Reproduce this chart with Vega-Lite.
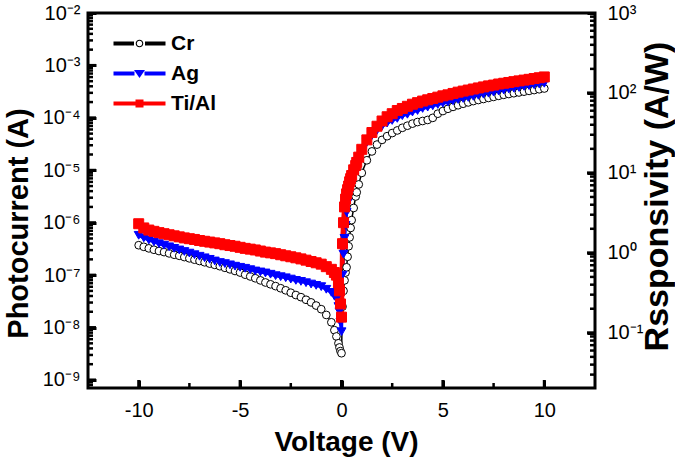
{
  "$schema": "https://vega.github.io/schema/vega-lite/v6.json",
  "width": 507,
  "height": 375,
  "autosize": "none",
  "padding": {"left": 88, "top": 13, "right": 80, "bottom": 69},
  "background": "white",
  "datasets": {
    "iv": [
      {"V": -10, "Cr": 3.72e-7, "Ag": 5.75e-7, "Ti/Al": 9.55e-7},
      {"V": -9.75, "Cr": 3.47e-7, "Ag": 5.13e-7, "Ti/Al": 7.94e-7},
      {"V": -9.5, "Cr": 3.24e-7, "Ag": 4.68e-7, "Ti/Al": 7.24e-7},
      {"V": -9.25, "Cr": 3.05e-7, "Ag": 4.32e-7, "Ti/Al": 6.84e-7},
      {"V": -9, "Cr": 2.88e-7, "Ag": 3.98e-7, "Ti/Al": 6.46e-7},
      {"V": -8.75, "Cr": 2.75e-7, "Ag": 3.72e-7, "Ti/Al": 6.17e-7},
      {"V": -8.5, "Cr": 2.60e-7, "Ag": 3.47e-7, "Ti/Al": 5.89e-7},
      {"V": -8.25, "Cr": 2.45e-7, "Ag": 3.24e-7, "Ti/Al": 5.62e-7},
      {"V": -8, "Cr": 2.34e-7, "Ag": 3.02e-7, "Ti/Al": 5.37e-7},
      {"V": -7.75, "Cr": 2.21e-7, "Ag": 2.82e-7, "Ti/Al": 5.13e-7},
      {"V": -7.5, "Cr": 2.09e-7, "Ag": 2.63e-7, "Ti/Al": 4.95e-7},
      {"V": -7.25, "Cr": 1.97e-7, "Ag": 2.45e-7, "Ti/Al": 4.79e-7},
      {"V": -7, "Cr": 1.86e-7, "Ag": 2.29e-7, "Ti/Al": 4.57e-7},
      {"V": -6.75, "Cr": 1.76e-7, "Ag": 2.14e-7, "Ti/Al": 4.42e-7},
      {"V": -6.5, "Cr": 1.66e-7, "Ag": 2.00e-7, "Ti/Al": 4.27e-7},
      {"V": -6.25, "Cr": 1.57e-7, "Ag": 1.86e-7, "Ti/Al": 4.12e-7},
      {"V": -6, "Cr": 1.48e-7, "Ag": 1.74e-7, "Ti/Al": 3.98e-7},
      {"V": -5.75, "Cr": 1.38e-7, "Ag": 1.66e-7, "Ti/Al": 3.80e-7},
      {"V": -5.5, "Cr": 1.29e-7, "Ag": 1.57e-7, "Ti/Al": 3.67e-7},
      {"V": -5.25, "Cr": 1.20e-7, "Ag": 1.48e-7, "Ti/Al": 3.55e-7},
      {"V": -5, "Cr": 1.12e-7, "Ag": 1.41e-7, "Ti/Al": 3.39e-7},
      {"V": -4.75, "Cr": 1.02e-7, "Ag": 1.35e-7, "Ti/Al": 3.24e-7},
      {"V": -4.5, "Cr": 9.44e-8, "Ag": 1.27e-7, "Ti/Al": 3.13e-7},
      {"V": -4.25, "Cr": 8.71e-8, "Ag": 1.20e-7, "Ti/Al": 3.02e-7},
      {"V": -4, "Cr": 7.94e-8, "Ag": 1.15e-7, "Ti/Al": 2.88e-7},
      {"V": -3.75, "Cr": 7.24e-8, "Ag": 1.10e-7, "Ti/Al": 2.75e-7},
      {"V": -3.5, "Cr": 6.68e-8, "Ag": 1.04e-7, "Ti/Al": 2.66e-7},
      {"V": -3.25, "Cr": 6.17e-8, "Ag": 9.77e-8, "Ti/Al": 2.57e-7},
      {"V": -3, "Cr": 5.62e-8, "Ag": 9.33e-8, "Ti/Al": 2.45e-7},
      {"V": -2.75, "Cr": 5.13e-8, "Ag": 8.91e-8, "Ti/Al": 2.34e-7},
      {"V": -2.5, "Cr": 4.62e-8, "Ag": 8.41e-8, "Ti/Al": 2.24e-7},
      {"V": -2.25, "Cr": 4.17e-8, "Ag": 7.94e-8, "Ti/Al": 2.14e-7},
      {"V": -2, "Cr": 3.80e-8, "Ag": 7.59e-8, "Ti/Al": 2.04e-7},
      {"V": -1.75, "Cr": 3.39e-8, "Ag": 7.16e-8, "Ti/Al": 1.93e-7},
      {"V": -1.5, "Cr": 3.02e-8, "Ag": 6.76e-8, "Ti/Al": 1.82e-7},
      {"V": -1.25, "Cr": 2.63e-8, "Ag": 6.38e-8, "Ti/Al": 1.72e-7},
      {"V": -1, "Cr": 2.24e-8, "Ag": 6.03e-8, "Ti/Al": 1.62e-7},
      {"V": -0.75, "Cr": 1.74e-8, "Ag": 5.37e-8, "Ti/Al": 1.45e-7},
      {"V": -0.5, "Cr": 1.26e-8, "Ag": 4.68e-8, "Ti/Al": 1.29e-7},
      {"V": -0.35, "Cr": 8.91e-9, "Ag": 3.98e-8, "Ti/Al": 1.12e-7},
      {"V": -0.25, "Cr": 6.76e-9, "Ag": 3.55e-8, "Ti/Al": 1.00e-7},
      {"V": -0.15, "Cr": 5.01e-9, "Ag": 2.51e-8, "Ti/Al": 7.08e-8},
      {"V": -0.1, "Cr": 4.17e-9, "Ag": 2.00e-8, "Ti/Al": 5.01e-8},
      {"V": -0.05, "Cr": 3.55e-9, "Ag": 1.26e-8, "Ti/Al": 2.82e-8},
      {"V": 0, "Cr": 3.24e-9, "Ag": 8.32e-9, "Ti/Al": 1.58e-8},
      {"V": 0.05, "Cr": 2.51e-8, "Ag": 1.00e-7, "Ti/Al": 3.98e-7},
      {"V": 0.1, "Cr": 5.01e-8, "Ag": 2.51e-7, "Ti/Al": 1.00e-6},
      {"V": 0.15, "Cr": 7.94e-8, "Ag": 5.01e-7, "Ti/Al": 2.00e-6},
      {"V": 0.2, "Cr": 1.12e-7, "Ag": 8.91e-7, "Ti/Al": 2.82e-6},
      {"V": 0.25, "Cr": 1.41e-7, "Ag": 1.58e-6, "Ti/Al": 3.55e-6},
      {"V": 0.3, "Cr": 2.24e-7, "Ag": 2.40e-6, "Ti/Al": 4.27e-6},
      {"V": 0.35, "Cr": 3.55e-7, "Ag": 3.39e-6, "Ti/Al": 5.01e-6},
      {"V": 0.4, "Cr": 5.25e-7, "Ag": 4.47e-6, "Ti/Al": 6.03e-6},
      {"V": 0.45, "Cr": 7.94e-7, "Ag": 5.62e-6, "Ti/Al": 6.92e-6},
      {"V": 0.5, "Cr": 1.12e-6, "Ag": 7.08e-6, "Ti/Al": 7.94e-6},
      {"V": 0.6, "Cr": 1.91e-6, "Ag": 9.55e-6, "Ti/Al": 1.02e-5},
      {"V": 0.7, "Cr": 3.16e-6, "Ag": 1.29e-5, "Ti/Al": 1.23e-5},
      {"V": 0.75, "Cr": 3.80e-6, "Ag": 1.48e-5, "Ti/Al": 1.41e-5},
      {"V": 0.85, "Cr": 5.37e-6, "Ag": 1.78e-5, "Ti/Al": 1.78e-5},
      {"V": 1, "Cr": 8.91e-6, "Ag": 2.34e-5, "Ti/Al": 2.51e-5},
      {"V": 1.25, "Cr": 1.55e-5, "Ag": 3.39e-5, "Ti/Al": 3.80e-5},
      {"V": 1.5, "Cr": 2.29e-5, "Ag": 4.57e-5, "Ti/Al": 5.25e-5},
      {"V": 1.75, "Cr": 3.09e-5, "Ag": 5.75e-5, "Ti/Al": 6.92e-5},
      {"V": 2, "Cr": 3.80e-5, "Ag": 6.92e-5, "Ti/Al": 8.71e-5},
      {"V": 2.25, "Cr": 4.47e-5, "Ag": 7.94e-5, "Ti/Al": 1.05e-4},
      {"V": 2.5, "Cr": 5.13e-5, "Ag": 8.91e-5, "Ti/Al": 1.20e-4},
      {"V": 2.75, "Cr": 5.75e-5, "Ag": 9.77e-5, "Ti/Al": 1.38e-4},
      {"V": 3, "Cr": 6.46e-5, "Ag": 1.10e-4, "Ti/Al": 1.51e-4},
      {"V": 3.25, "Cr": 7.08e-5, "Ag": 1.17e-4, "Ti/Al": 1.66e-4},
      {"V": 3.5, "Cr": 7.76e-5, "Ag": 1.29e-4, "Ti/Al": 1.82e-4},
      {"V": 3.75, "Cr": 8.32e-5, "Ag": 1.38e-4, "Ti/Al": 1.95e-4},
      {"V": 4, "Cr": 8.71e-5, "Ag": 1.51e-4, "Ti/Al": 2.09e-4},
      {"V": 4.25, "Cr": 9.12e-5, "Ag": 1.60e-4, "Ti/Al": 2.21e-4},
      {"V": 4.5, "Cr": 1.00e-4, "Ag": 1.70e-4, "Ti/Al": 2.34e-4},
      {"V": 4.75, "Cr": 1.20e-4, "Ag": 1.80e-4, "Ti/Al": 2.48e-4},
      {"V": 5, "Cr": 1.35e-4, "Ag": 1.91e-4, "Ti/Al": 2.63e-4},
      {"V": 5.25, "Cr": 1.49e-4, "Ag": 2.00e-4, "Ti/Al": 2.75e-4},
      {"V": 5.5, "Cr": 1.62e-4, "Ag": 2.11e-4, "Ti/Al": 2.92e-4},
      {"V": 5.75, "Cr": 1.74e-4, "Ag": 2.24e-4, "Ti/Al": 3.09e-4},
      {"V": 6, "Cr": 1.86e-4, "Ag": 2.34e-4, "Ti/Al": 3.24e-4},
      {"V": 6.25, "Cr": 1.97e-4, "Ag": 2.45e-4, "Ti/Al": 3.39e-4},
      {"V": 6.5, "Cr": 2.09e-4, "Ag": 2.57e-4, "Ti/Al": 3.55e-4},
      {"V": 6.75, "Cr": 2.19e-4, "Ag": 2.69e-4, "Ti/Al": 3.72e-4},
      {"V": 7, "Cr": 2.29e-4, "Ag": 2.82e-4, "Ti/Al": 3.89e-4},
      {"V": 7.25, "Cr": 2.40e-4, "Ag": 2.95e-4, "Ti/Al": 4.07e-4},
      {"V": 7.5, "Cr": 2.51e-4, "Ag": 3.09e-4, "Ti/Al": 4.22e-4},
      {"V": 7.75, "Cr": 2.63e-4, "Ag": 3.24e-4, "Ti/Al": 4.42e-4},
      {"V": 8, "Cr": 2.75e-4, "Ag": 3.39e-4, "Ti/Al": 4.57e-4},
      {"V": 8.25, "Cr": 2.85e-4, "Ag": 3.55e-4, "Ti/Al": 4.73e-4},
      {"V": 8.5, "Cr": 2.95e-4, "Ag": 3.67e-4, "Ti/Al": 4.90e-4},
      {"V": 8.75, "Cr": 3.05e-4, "Ag": 3.80e-4, "Ti/Al": 5.07e-4},
      {"V": 9, "Cr": 3.16e-4, "Ag": 3.98e-4, "Ti/Al": 5.25e-4},
      {"V": 9.25, "Cr": 3.27e-4, "Ag": 4.12e-4, "Ti/Al": 5.43e-4},
      {"V": 9.5, "Cr": 3.39e-4, "Ag": 4.27e-4, "Ti/Al": 5.62e-4},
      {"V": 9.75, "Cr": 3.51e-4, "Ag": 4.42e-4, "Ti/Al": 5.82e-4},
      {"V": 10, "Cr": 3.63e-4, "Ag": 4.57e-4, "Ti/Al": 6.03e-4}
    ],
    "series": [
      {"Electrode": "Cr", "rank": 1},
      {"Electrode": "Ag", "rank": 2},
      {"Electrode": "Ti/Al", "rank": 3}
    ],
    "xmajor": [{"t": -10}, {"t": -5}, {"t": 0}, {"t": 5}, {"t": 10}],
    "xminor": [{"t": -7.5}, {"t": -2.5}, {"t": 2.5}, {"t": 7.5}],
    "lmajor": [{"t": 1e-9}, {"t": 1e-8}, {"t": 1e-7}, {"t": 1e-6}, {"t": 1e-5}, {"t": 1e-4}, {"t": 1e-3}],
    "lminor": [{"t": 8e-10}, {"t": 9e-10},
      {"t": 2e-9}, {"t": 3e-9}, {"t": 4e-9}, {"t": 5e-9}, {"t": 6e-9}, {"t": 7e-9}, {"t": 8e-9}, {"t": 9e-9},
      {"t": 2e-8}, {"t": 3e-8}, {"t": 4e-8}, {"t": 5e-8}, {"t": 6e-8}, {"t": 7e-8}, {"t": 8e-8}, {"t": 9e-8},
      {"t": 2e-7}, {"t": 3e-7}, {"t": 4e-7}, {"t": 5e-7}, {"t": 6e-7}, {"t": 7e-7}, {"t": 8e-7}, {"t": 9e-7},
      {"t": 2e-6}, {"t": 3e-6}, {"t": 4e-6}, {"t": 5e-6}, {"t": 6e-6}, {"t": 7e-6}, {"t": 8e-6}, {"t": 9e-6},
      {"t": 2e-5}, {"t": 3e-5}, {"t": 4e-5}, {"t": 5e-5}, {"t": 6e-5}, {"t": 7e-5}, {"t": 8e-5}, {"t": 9e-5},
      {"t": 2e-4}, {"t": 3e-4}, {"t": 4e-4}, {"t": 5e-4}, {"t": 6e-4}, {"t": 7e-4}, {"t": 8e-4}, {"t": 9e-4},
      {"t": 2e-3}, {"t": 3e-3}, {"t": 4e-3}, {"t": 5e-3}, {"t": 6e-3}, {"t": 7e-3}, {"t": 8e-3}, {"t": 9e-3}],
    "rmajor": [{"t": 0.1}, {"t": 1}, {"t": 10}, {"t": 100}],
    "rminor": [{"t": 0.03}, {"t": 0.04}, {"t": 0.05}, {"t": 0.06}, {"t": 0.07}, {"t": 0.08}, {"t": 0.09},
      {"t": 0.2}, {"t": 0.3}, {"t": 0.4}, {"t": 0.5}, {"t": 0.6}, {"t": 0.7}, {"t": 0.8}, {"t": 0.9},
      {"t": 2}, {"t": 3}, {"t": 4}, {"t": 5}, {"t": 6}, {"t": 7}, {"t": 8}, {"t": 9},
      {"t": 20}, {"t": 30}, {"t": 40}, {"t": 50}, {"t": 60}, {"t": 70}, {"t": 80}, {"t": 90},
      {"t": 200}, {"t": 300}, {"t": 400}, {"t": 500}, {"t": 600}, {"t": 700}, {"t": 800}, {"t": 900}]
  },
  "layer": [
    {
      "data": {"name": "iv"},
      "transform": [
        {"fold": ["Cr", "Ag", "Ti/Al"], "as": ["Electrode", "I"]},
        {"lookup": "Electrode", "from": {"data": {"name": "series"}, "key": "Electrode", "fields": ["rank"]}}
      ],
      "encoding": {
        "x": {
          "field": "V", "type": "quantitative",
          "scale": {"domain": [-12.5, 12.5], "nice": false, "zero": false},
          "axis": {
            "orient": "bottom", "values": [-10, -5, 0, 5, 10],
            "labelExpr": "'' + datum.value", "tickColor": "#000000",
            "offset": -8, "tickSize": 8, "tickWidth": 3, "labelPadding": 12, "labelAngle": 0,
            "title": "Voltage (V)", "titleX": 258, "titleY": 70, "titleBaseline": "alphabetic", "titleAlign": "center", "titleFontSize": 28
          }
        },
        "y": {
          "field": "I", "type": "quantitative",
          "scale": {"type": "log", "domain": [7.03e-10, 0.01], "nice": false},
          "axis": {
            "orient": "left",
            "values": [1e-9, 1e-8, 1e-7, 1e-6, 1e-5, 1e-4, 1e-3, 1e-2],
            "labelExpr": "'10' + ['⁻⁹','⁻⁸','⁻⁷','⁻⁶','⁻⁵','⁻⁴','⁻³','⁻²'][round(log(datum.value)/LN10)+9]",
            "tickColor": "#000000",
            "offset": -8, "tickSize": 8, "tickWidth": 3, "labelPadding": 8,
            "title": "Photocurrent (A)", "titleAngle": 270, "titleBaseline": "alphabetic",
            "titleX": -69, "titleY": 210, "titleAlign": "center"
          }
        }
      },
      "layer": [
        {
          "mark": {"type": "line"},
          "encoding": {
            "stroke": {
              "field": "Electrode", "type": "nominal",
              "scale": {"domain": ["Cr", "Ag", "Ti/Al"], "range": ["#000000", "#0000ff", "#ff0000"]},
              "legend": null
            },
            "strokeWidth": {
              "field": "Electrode", "type": "nominal",
              "scale": {"domain": ["Cr", "Ag", "Ti/Al"], "range": [1.5, 5, 6]},
              "legend": null
            }
          }
        },
        {
          "mark": {"type": "point", "strokeWidth": 1, "opacity": 1},
          "encoding": {
            "stroke": {
              "field": "Electrode", "type": "nominal",
              "scale": {"domain": ["Cr", "Ag", "Ti/Al"], "range": ["#000000", "#0000ff", "#ff0000"]},
              "legend": null
            },
            "fill": {
              "field": "Electrode", "type": "nominal",
              "scale": {"domain": ["Cr", "Ag", "Ti/Al"], "range": ["#ffffff", "#0000ff", "#ff0000"]},
              "legend": null
            },
            "shape": {
              "field": "Electrode", "type": "nominal",
              "scale": {"domain": ["Cr", "Ag", "Ti/Al"], "range": ["circle", "triangle-down", "square"]},
              "legend": null
            },
            "size": {
              "field": "Electrode", "type": "nominal",
              "scale": {"domain": ["Cr", "Ag", "Ti/Al"], "range": [60, 100, 85]},
              "legend": null
            },
            "order": {"field": "rank", "type": "quantitative"}
          }
        }
      ]
    },
    {
      "data": {"name": "series"},
      "mark": {"type": "point", "filled": true, "opacity": 0},
      "encoding": {
        "shape": {
          "field": "Electrode", "type": "nominal",
          "scale": {
            "domain": ["Cr", "Ag", "Ti/Al"],
            "range": [
              "M-2.6,-0.2H-0.55V0.2H-2.6Z M0.55,-0.2H2.6V0.2H0.55Z M0.38,0A0.38,0.38 0 1,1 -0.38,0A0.38,0.38 0 1,1 0.38,0Z M0.27,0A0.27,0.27 0 1,0 -0.27,0A0.27,0.27 0 1,0 0.27,0Z",
              "M-2.6,-0.2H-0.5V0.2H-2.6Z M0.5,-0.2H2.6V0.2H0.5Z M-0.55,-0.35H0.55L0,0.45Z",
              "M-2.6,-0.2H-0.4V0.2H-2.6Z M0.4,-0.2H2.6V0.2H0.4Z M-0.4,-0.4H0.4V0.4H-0.4Z"
            ]
          },
          "legend": {
            "title": null, "orient": "none", "legendX": 41, "legendY": 20,
            "symbolSize": 400, "symbolOpacity": 1, "symbolStrokeWidth": 0,
            "labelOffset": 21, "rowPadding": 8, "padding": 0,
            "labelFontSize": 21, "labelFontWeight": "bold", "labelColor": "#000000", "labelFont": "Liberation Sans"
          }
        },
        "fill": {
          "field": "Electrode", "type": "nominal",
          "scale": {"domain": ["Cr", "Ag", "Ti/Al"], "range": ["#000000", "#0000ff", "#ff0000"]},
          "legend": {
            "title": null, "orient": "none", "legendX": 41, "legendY": 20,
            "symbolSize": 400, "symbolOpacity": 1, "symbolStrokeWidth": 0,
            "labelOffset": 21, "rowPadding": 8, "padding": 0,
            "labelFontSize": 21, "labelFontWeight": "bold", "labelColor": "#000000", "labelFont": "Liberation Sans"
          }
        }
      }
    },
    {
      "data": {"values": [{"R": 1}]},
      "mark": {"type": "point", "opacity": 0},
      "encoding": {
        "x": {"datum": 0, "type": "quantitative", "scale": {"domain": [-12.5, 12.5], "nice": false, "zero": false}, "axis": null},
        "y": {
          "field": "R", "type": "quantitative",
          "scale": {"type": "log", "domain": [0.0204, 1000], "nice": false},
          "axis": {
            "orient": "right", "values": [0.1, 1, 10, 100, 1000],
            "labelExpr": "'10' + ['⁻¹','⁰','¹','²','³'][round(log(datum.value)/LN10)+1]",
            "tickColor": "#000000",
            "offset": -8, "tickSize": 8, "tickWidth": 3, "labelPadding": 12,
            "title": "Rssponsivity (A/W)", "titleAngle": 270, "titleBaseline": "alphabetic",
            "titleX": 80, "titleY": 183, "titleAlign": "center", "titleFontSize": 34
          }
        }
      }
    },
    {
      "data": {"name": "xmajor"},
      "mark": {"type": "tick", "orient": "vertical", "size": 8, "thickness": 3, "color": "#000000", "opacity": 1, "yOffset": -4},
      "encoding": {
        "x": {"field": "t", "type": "quantitative", "scale": {"domain": [-12.5, 12.5], "nice": false, "zero": false}, "axis": null},
        "y": {"datum": 7.03e-10, "type": "quantitative", "scale": {"type": "log", "domain": [7.03e-10, 0.01], "nice": false}, "axis": null}
      }
    },
    {
      "data": {"name": "xminor"},
      "mark": {"type": "tick", "orient": "vertical", "size": 5, "thickness": 2.5, "color": "#000000", "opacity": 1, "yOffset": -2.5},
      "encoding": {
        "x": {"field": "t", "type": "quantitative", "scale": {"domain": [-12.5, 12.5], "nice": false, "zero": false}, "axis": null},
        "y": {"datum": 7.03e-10, "type": "quantitative", "scale": {"type": "log", "domain": [7.03e-10, 0.01], "nice": false}, "axis": null}
      }
    },
    {
      "data": {"name": "lmajor"},
      "mark": {"type": "tick", "orient": "horizontal", "size": 8, "thickness": 3, "color": "#000000", "opacity": 1, "xOffset": 4},
      "encoding": {
        "x": {"datum": -12.5, "type": "quantitative", "scale": {"domain": [-12.5, 12.5], "nice": false, "zero": false}, "axis": null},
        "y": {"field": "t", "type": "quantitative", "scale": {"type": "log", "domain": [7.03e-10, 0.01], "nice": false}, "axis": null}
      }
    },
    {
      "data": {"name": "lminor"},
      "mark": {"type": "tick", "orient": "horizontal", "size": 5, "thickness": 2.5, "color": "#000000", "opacity": 1, "xOffset": 2.5},
      "encoding": {
        "x": {"datum": -12.5, "type": "quantitative", "scale": {"domain": [-12.5, 12.5], "nice": false, "zero": false}, "axis": null},
        "y": {"field": "t", "type": "quantitative", "scale": {"type": "log", "domain": [7.03e-10, 0.01], "nice": false}, "axis": null}
      }
    },
    {
      "data": {"name": "rmajor"},
      "mark": {"type": "tick", "orient": "horizontal", "size": 8, "thickness": 3, "color": "#000000", "opacity": 1, "xOffset": -4},
      "encoding": {
        "x": {"datum": 12.5, "type": "quantitative", "scale": {"domain": [-12.5, 12.5], "nice": false, "zero": false}, "axis": null},
        "y": {"field": "t", "type": "quantitative", "scale": {"type": "log", "domain": [0.0204, 1000], "nice": false}, "axis": null}
      }
    },
    {
      "data": {"name": "rminor"},
      "mark": {"type": "tick", "orient": "horizontal", "size": 5, "thickness": 2.5, "color": "#000000", "opacity": 1, "xOffset": -2.5},
      "encoding": {
        "x": {"datum": 12.5, "type": "quantitative", "scale": {"domain": [-12.5, 12.5], "nice": false, "zero": false}, "axis": null},
        "y": {"field": "t", "type": "quantitative", "scale": {"type": "log", "domain": [0.0204, 1000], "nice": false}, "axis": null}
      }
    }
  ],
  "resolve": {"scale": {"x": "independent", "y": "independent", "shape": "independent", "fill": "independent"}},
  "config": {
    "font": "Liberation Sans",
    "view": {"stroke": "#000000", "strokeWidth": 3},
    "axis": {
      "domain": false, "grid": false,
      "labelFont": "Liberation Sans", "labelFontSize": 20, "labelColor": "#000000",
      "titleFont": "Liberation Sans", "titleFontWeight": "bold", "titleFontSize": 29, "titleColor": "#000000"
    }
  }
}
